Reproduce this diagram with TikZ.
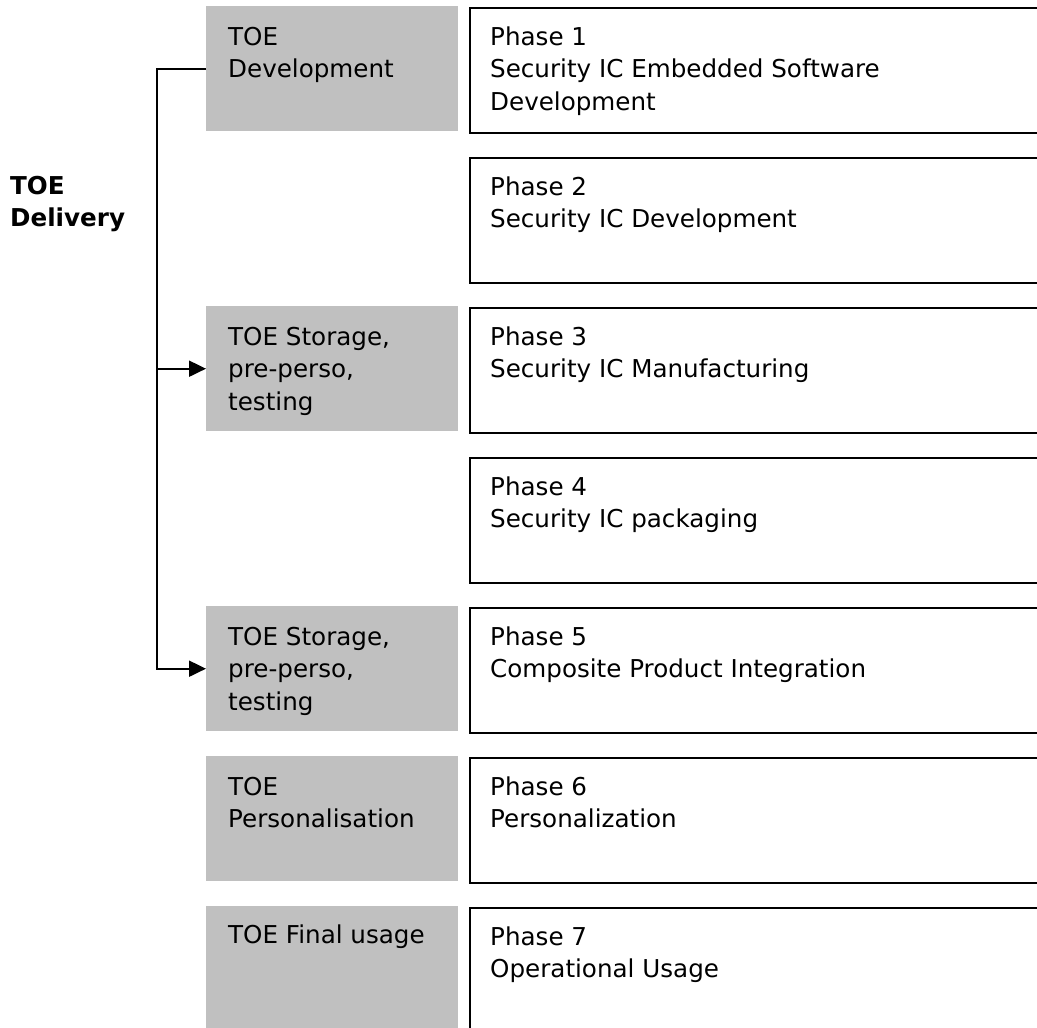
\documentclass[tikz,border=0pt]{standalone}
\usepackage{fontspec}
\setmainfont{DejaVu Sans}
\usetikzlibrary{arrows.meta}
\definecolor{boxgrey}{HTML}{C0C0C0}
\begin{document}
\begin{tikzpicture}[x=1pt,y=-1pt,
  greybox/.style={rectangle, fill=boxgrey, draw=none, anchor=north west, inner sep=0pt,
    minimum width=252pt, minimum height=125pt},
  phasebox/.style={rectangle, draw=black, line width=2.4pt, anchor=north west, inner sep=0pt,
    minimum width=620pt, minimum height=125pt},
  lbl/.style={anchor=base west, inner sep=0pt, font=\fontsize{24.6}{32.5}\selectfont},
  conn/.style={line width=2pt, draw=black},
  tip/.style={-{Triangle[length=17pt,width=16pt]}}
]
\useasboundingbox (0,0) rectangle (1037,1028);
\clip (0,0) rectangle (1037,1028);

% grey boxes
\node[greybox] (g1) at (206,6) {};
\node[greybox] (g3) at (206,306) {};
\node[greybox] (g5) at (206,606) {};
\node[greybox] (g6) at (206,756) {};
\node[greybox] (g7) at (206,906) {};

% phase boxes
\node[phasebox] (p1) at (469,7) {};
\node[phasebox] (p2) at (469,157) {};
\node[phasebox] (p3) at (469,307) {};
\node[phasebox] (p4) at (469,457) {};
\node[phasebox] (p5) at (469,607) {};
\node[phasebox] (p6) at (469,757) {};
\node[phasebox] (p7) at (469,907) {};

% grey texts
\node[lbl] (tg1) at (228,45) {\begin{tabular}[t]{@{}l@{}}TOE\\Development\end{tabular}};
\node[lbl] (tg3) at (228,345) {\begin{tabular}[t]{@{}l@{}}TOE Storage,\\pre-perso,\\testing\end{tabular}};
\node[lbl] (tg5) at (228,645) {\begin{tabular}[t]{@{}l@{}}TOE Storage,\\pre-perso,\\testing\end{tabular}};
\node[lbl] (tg6) at (228,795) {\begin{tabular}[t]{@{}l@{}}TOE\\Personalisation\end{tabular}};
\node[lbl] (tg7) at (228,943) {TOE Final usage};

% phase texts
\node[lbl] (tp1) at (490,45) {\begin{tabular}[t]{@{}l@{}}Phase 1\\Security IC Embedded Software\\Development\end{tabular}};
\node[lbl] (tp2) at (490,195) {\begin{tabular}[t]{@{}l@{}}Phase 2\\Security IC Development\end{tabular}};
\node[lbl] (tp3) at (490,345) {\begin{tabular}[t]{@{}l@{}}Phase 3\\Security IC Manufacturing\end{tabular}};
\node[lbl] (tp4) at (490,495) {\begin{tabular}[t]{@{}l@{}}Phase 4\\Security IC packaging\end{tabular}};
\node[lbl] (tp5) at (490,645) {\begin{tabular}[t]{@{}l@{}}Phase 5\\Composite Product Integration\end{tabular}};
\node[lbl] (tp6) at (490,795) {\begin{tabular}[t]{@{}l@{}}Phase 6\\Personalization\end{tabular}};
\node[lbl] (tp7) at (490,945) {\begin{tabular}[t]{@{}l@{}}Phase 7\\Operational Usage\end{tabular}};

% TOE Delivery
\node[anchor=base west, inner sep=0pt, font=\fontsize{24.6}{32}\selectfont\bfseries] (deliv) at (10,194)
  {\begin{tabular}[t]{@{}l@{}}TOE\\Delivery\end{tabular}};

% connectors
\coordinate (trunk) at (157,0);
\draw[conn, tip] (g1.west) -- (g1.west -| trunk) |- (g5.west);
\draw[conn, tip] (g3.west -| trunk) -- (g3.west);
\end{tikzpicture}
\end{document}
